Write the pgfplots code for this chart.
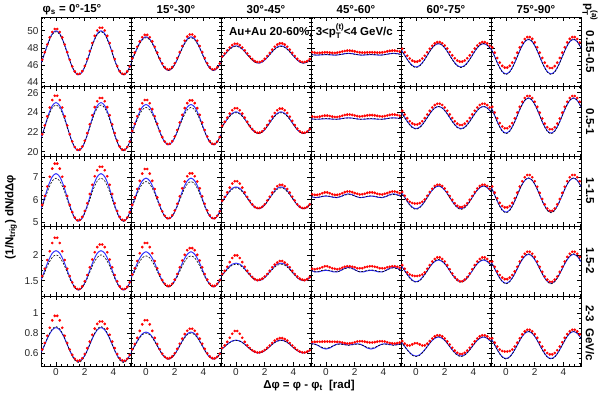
\documentclass[border=0pt]{standalone}
\usepackage{fontspec}
\setmainfont{Liberation Sans}
\usepackage{pgfplots}
\usepackage{pgfplotstable}
\pgfplotsset{compat=1.18}

% ---------- red points (36 bins) ----------
\pgfplotstableread{
x r1 r2 r3 r4 r5 r6
-0.9599 46.64 46.79 47.02 47.52 47.91 48.08
-0.7854 47.52 47.46 47.36 47.46 47.51 47.46
-0.6109 48.41 48.15 47.72 47.43 47.11 46.84
-0.4363 49.23 48.77 48.06 47.44 46.78 46.31
-0.2618 49.86 49.25 48.33 47.47 46.54 45.93
-0.0873 50.20 49.52 48.49 47.50 46.42 45.73
0.0873 50.20 49.52 48.49 47.50 46.42 45.73
0.2618 49.86 49.25 48.33 47.47 46.54 45.93
0.4363 49.23 48.77 48.06 47.44 46.78 46.31
0.6109 48.41 48.15 47.72 47.43 47.11 46.84
0.7854 47.52 47.46 47.36 47.46 47.51 47.46
0.9599 46.64 46.79 47.02 47.52 47.91 48.08
1.1345 45.86 46.20 46.71 47.59 48.27 48.64
1.3090 45.29 45.76 46.48 47.66 48.54 49.05
1.4835 44.99 45.53 46.37 47.70 48.68 49.27
1.6581 45.01 45.54 46.38 47.70 48.69 49.27
1.8326 45.32 45.78 46.50 47.67 48.55 49.06
2.0071 45.92 46.23 46.74 47.61 48.29 48.65
2.1817 46.73 46.84 47.07 47.54 47.94 48.09
2.3562 47.65 47.53 47.43 47.49 47.54 47.47
2.5307 48.58 48.24 47.81 47.47 47.15 46.85
2.7053 49.41 48.85 48.14 47.47 46.81 46.30
2.8798 50.03 49.32 48.40 47.49 46.55 45.90
3.0543 50.36 49.57 48.54 47.50 46.42 45.68
3.2289 50.36 49.57 48.54 47.50 46.42 45.68
3.4034 50.03 49.32 48.40 47.49 46.55 45.90
3.5779 49.41 48.85 48.14 47.47 46.81 46.30
3.7525 48.58 48.24 47.81 47.47 47.15 46.85
3.9270 47.65 47.53 47.43 47.49 47.54 47.47
4.1015 46.73 46.84 47.07 47.54 47.94 48.09
4.2761 45.92 46.23 46.74 47.61 48.29 48.65
4.4506 45.32 45.78 46.50 47.67 48.55 49.06
4.6251 45.01 45.54 46.38 47.70 48.69 49.27
4.7997 44.99 45.53 46.37 47.70 48.68 49.27
4.9742 45.29 45.76 46.48 47.66 48.54 49.05
5.1487 45.86 46.20 46.71 47.59 48.27 48.64
}\redA

\pgfplotstableread{
x r1 r2 r3 r4 r5 r6
-0.9599 21.78 22.11 22.63 23.58 24.15 24.56
-0.7854 22.66 22.84 23.03 23.53 23.78 23.98
-0.6109 23.59 23.60 23.46 23.53 23.41 23.40
-0.4363 24.50 24.33 23.87 23.57 23.10 22.91
-0.2618 25.25 24.92 24.22 23.63 22.88 22.56
-0.0873 25.69 25.26 24.42 23.67 22.77 22.38
0.0873 25.69 25.26 24.42 23.67 22.77 22.38
0.2618 25.25 24.92 24.22 23.63 22.88 22.56
0.4363 24.50 24.33 23.87 23.57 23.10 22.91
0.6109 23.59 23.60 23.46 23.53 23.41 23.40
0.7854 22.66 22.84 23.03 23.53 23.78 23.98
0.9599 21.78 22.11 22.63 23.58 24.15 24.56
1.1345 21.03 21.48 22.29 23.65 24.49 25.08
1.3090 20.48 21.03 22.05 23.73 24.74 25.46
1.4835 20.19 20.78 21.92 23.77 24.87 25.66
1.6581 20.21 20.80 21.94 23.78 24.87 25.66
1.8326 20.52 21.07 22.08 23.74 24.75 25.46
2.0071 21.11 21.55 22.34 23.68 24.50 25.08
2.1817 21.89 22.21 22.70 23.62 24.16 24.56
2.3562 22.79 22.97 23.13 23.58 23.79 23.97
2.5307 23.71 23.74 23.56 23.60 23.42 23.38
2.7053 24.53 24.43 23.94 23.64 23.09 22.86
2.8798 25.13 24.94 24.22 23.69 22.85 22.48
3.0543 25.46 25.22 24.38 23.72 22.72 22.28
3.2289 25.46 25.22 24.38 23.72 22.72 22.28
3.4034 25.13 24.94 24.22 23.69 22.85 22.48
3.5779 24.53 24.43 23.94 23.64 23.09 22.86
3.7525 23.71 23.74 23.56 23.60 23.42 23.38
3.9270 22.79 22.97 23.13 23.58 23.79 23.97
4.1015 21.89 22.21 22.70 23.62 24.16 24.56
4.2761 21.11 21.55 22.34 23.68 24.50 25.08
4.4506 20.52 21.07 22.08 23.74 24.75 25.46
4.6251 20.21 20.80 21.94 23.78 24.87 25.66
4.7997 20.19 20.78 21.92 23.77 24.87 25.66
4.9742 20.48 21.03 22.05 23.73 24.74 25.46
5.1487 21.03 21.48 22.29 23.65 24.49 25.08
}\redB

\pgfplotstableread{
x r1 r2 r3 r4 r5 r6
-0.9599 5.77 5.77 5.95 6.24 6.34 6.58
-0.7854 6.16 6.10 6.12 6.21 6.17 6.31
-0.6109 6.58 6.47 6.32 6.21 6.01 6.06
-0.4363 7.01 6.83 6.53 6.24 5.91 5.86
-0.2618 7.37 7.15 6.71 6.28 5.85 5.72
-0.0873 7.59 7.35 6.81 6.32 5.83 5.66
0.0873 7.59 7.35 6.81 6.32 5.83 5.66
0.2618 7.37 7.15 6.71 6.28 5.85 5.72
0.4363 7.01 6.83 6.53 6.24 5.91 5.86
0.6109 6.58 6.47 6.32 6.21 6.01 6.06
0.7854 6.16 6.10 6.12 6.21 6.17 6.31
0.9599 5.77 5.77 5.95 6.24 6.34 6.58
1.1345 5.45 5.49 5.79 6.28 6.48 6.81
1.3090 5.21 5.29 5.68 6.33 6.60 6.99
1.4835 5.09 5.18 5.63 6.36 6.66 7.09
1.6581 5.11 5.19 5.63 6.36 6.66 7.09
1.8326 5.24 5.31 5.69 6.33 6.60 6.99
2.0071 5.50 5.52 5.80 6.29 6.49 6.81
2.1817 5.84 5.82 5.96 6.26 6.34 6.57
2.3562 6.25 6.15 6.13 6.23 6.16 6.30
2.5307 6.66 6.50 6.31 6.24 5.99 6.03
2.7053 7.03 6.80 6.47 6.26 5.84 5.79
2.8798 7.30 7.03 6.59 6.30 5.73 5.61
3.0543 7.45 7.16 6.65 6.32 5.67 5.51
3.2289 7.45 7.16 6.65 6.32 5.67 5.51
3.4034 7.30 7.03 6.59 6.30 5.73 5.61
3.5779 7.03 6.80 6.47 6.26 5.84 5.79
3.7525 6.66 6.50 6.31 6.24 5.99 6.03
3.9270 6.25 6.15 6.13 6.23 6.16 6.30
4.1015 5.84 5.82 5.96 6.26 6.34 6.57
4.2761 5.50 5.52 5.80 6.29 6.49 6.81
4.4506 5.24 5.31 5.69 6.33 6.60 6.99
4.6251 5.11 5.19 5.63 6.36 6.66 7.09
4.7997 5.09 5.18 5.63 6.36 6.66 7.09
4.9742 5.21 5.29 5.68 6.33 6.60 6.99
5.1487 5.45 5.49 5.79 6.28 6.48 6.81
}\redC

\pgfplotstableread{
x r1 r2 r3 r4 r5 r6
-0.9599 1.59 1.62 1.63 1.73 1.80 1.87
-0.7854 1.73 1.74 1.69 1.72 1.73 1.77
-0.6109 1.90 1.88 1.77 1.73 1.66 1.68
-0.4363 2.07 2.03 1.86 1.74 1.62 1.61
-0.2618 2.23 2.15 1.94 1.76 1.60 1.56
-0.0873 2.33 2.23 1.99 1.78 1.59 1.53
0.0873 2.33 2.23 1.99 1.78 1.59 1.53
0.2618 2.23 2.15 1.94 1.76 1.60 1.56
0.4363 2.07 2.03 1.86 1.74 1.62 1.61
0.6109 1.90 1.88 1.77 1.73 1.66 1.68
0.7854 1.73 1.74 1.69 1.72 1.73 1.77
0.9599 1.59 1.62 1.63 1.73 1.80 1.87
1.1345 1.47 1.51 1.57 1.75 1.87 1.96
1.3090 1.38 1.44 1.53 1.77 1.92 2.02
1.4835 1.34 1.40 1.51 1.78 1.95 2.06
1.6581 1.34 1.40 1.52 1.78 1.95 2.06
1.8326 1.39 1.44 1.54 1.77 1.92 2.02
2.0071 1.49 1.52 1.58 1.76 1.87 1.96
2.1817 1.61 1.63 1.63 1.74 1.80 1.87
2.3562 1.76 1.76 1.69 1.74 1.72 1.77
2.5307 1.91 1.89 1.76 1.74 1.64 1.67
2.7053 2.05 2.00 1.81 1.76 1.57 1.58
2.8798 2.15 2.09 1.85 1.77 1.52 1.52
3.0543 2.20 2.13 1.88 1.78 1.49 1.48
3.2289 2.20 2.13 1.88 1.78 1.49 1.48
3.4034 2.15 2.09 1.85 1.77 1.52 1.52
3.5779 2.05 2.00 1.81 1.76 1.57 1.58
3.7525 1.91 1.89 1.76 1.74 1.64 1.67
3.9270 1.76 1.76 1.69 1.74 1.72 1.77
4.1015 1.61 1.63 1.63 1.74 1.80 1.87
4.2761 1.49 1.52 1.58 1.76 1.87 1.96
4.4506 1.39 1.44 1.54 1.77 1.92 2.02
4.6251 1.34 1.40 1.52 1.78 1.95 2.06
4.7997 1.34 1.40 1.51 1.78 1.95 2.06
4.9742 1.38 1.44 1.53 1.77 1.92 2.02
5.1487 1.47 1.51 1.57 1.75 1.87 1.96
}\redD

\pgfplotstableread{
x r1 r2 r3 r4 r5 r6
-0.9599 0.636 0.638 0.651 0.711 0.720 0.748
-0.7854 0.700 0.690 0.677 0.712 0.694 0.704
-0.6109 0.774 0.752 0.712 0.713 0.677 0.665
-0.4363 0.854 0.822 0.753 0.713 0.675 0.636
-0.2618 0.928 0.888 0.794 0.714 0.687 0.621
-0.0873 0.973 0.929 0.821 0.715 0.698 0.616
0.0873 0.973 0.929 0.821 0.715 0.698 0.616
0.2618 0.928 0.888 0.794 0.714 0.687 0.621
0.4363 0.854 0.822 0.753 0.713 0.675 0.636
0.6109 0.774 0.752 0.712 0.713 0.677 0.665
0.7854 0.700 0.690 0.677 0.712 0.694 0.704
0.9599 0.636 0.638 0.651 0.711 0.720 0.748
1.1345 0.581 0.593 0.628 0.705 0.746 0.787
1.3090 0.543 0.563 0.614 0.699 0.767 0.817
1.4835 0.523 0.547 0.606 0.696 0.779 0.833
1.6581 0.526 0.549 0.607 0.697 0.779 0.834
1.8326 0.548 0.566 0.615 0.701 0.767 0.819
2.0071 0.591 0.598 0.631 0.708 0.746 0.790
2.1817 0.649 0.642 0.652 0.716 0.717 0.752
2.3562 0.715 0.693 0.676 0.718 0.685 0.708
2.5307 0.784 0.744 0.701 0.718 0.653 0.666
2.7053 0.845 0.790 0.724 0.714 0.624 0.628
2.8798 0.892 0.824 0.740 0.709 0.603 0.601
3.0543 0.916 0.843 0.749 0.706 0.591 0.587
3.2289 0.916 0.843 0.749 0.706 0.591 0.587
3.4034 0.892 0.824 0.740 0.709 0.603 0.601
3.5779 0.845 0.790 0.724 0.714 0.624 0.628
3.7525 0.784 0.744 0.701 0.718 0.653 0.666
3.9270 0.715 0.693 0.676 0.718 0.685 0.708
4.1015 0.649 0.642 0.652 0.716 0.717 0.752
4.2761 0.591 0.598 0.631 0.708 0.746 0.790
4.4506 0.548 0.566 0.615 0.701 0.767 0.819
4.6251 0.526 0.549 0.607 0.697 0.779 0.834
4.7997 0.523 0.547 0.606 0.696 0.779 0.833
4.9742 0.543 0.563 0.614 0.699 0.767 0.817
5.1487 0.581 0.593 0.628 0.705 0.746 0.787
}\redE

% ---------- blue (b) and black dashed (k) curves ----------
\pgfplotstableread{
x b1 k1 b2 k2 b3 k3 b4 k4 b5 k5 b6 k6
-1.0472 46.18 46.15 46.38 46.35 46.75 46.74 47.26 47.25 47.83 47.83 48.00 48.01
-0.7854 47.45 47.40 47.35 47.30 47.25 47.22 47.19 47.19 47.15 47.13 47.00 46.98
-0.5236 48.73 48.65 48.33 48.25 47.75 47.71 47.18 47.20 46.48 46.43 46.00 45.96
-0.2618 49.66 49.57 49.04 48.95 48.12 48.06 47.21 47.24 45.98 45.92 45.27 45.21
0.0000 50.00 49.90 49.30 49.20 48.25 48.19 47.23 47.26 45.80 45.73 45.00 44.93
0.2618 49.66 49.57 49.04 48.95 48.12 48.06 47.21 47.24 45.98 45.92 45.27 45.21
0.5236 48.73 48.65 48.33 48.25 47.75 47.71 47.18 47.20 46.48 46.43 46.00 45.96
0.7854 47.45 47.40 47.35 47.30 47.25 47.22 47.19 47.19 47.15 47.13 47.00 46.98
1.0472 46.18 46.15 46.38 46.35 46.75 46.74 47.26 47.25 47.83 47.83 48.00 48.01
1.3090 45.24 45.24 45.66 45.66 46.38 46.38 47.35 47.32 48.32 48.34 48.73 48.76
1.5708 44.90 44.90 45.40 45.40 46.25 46.25 47.39 47.36 48.50 48.53 49.00 49.03
1.8326 45.24 45.24 45.66 45.66 46.38 46.38 47.35 47.32 48.32 48.34 48.73 48.76
2.0944 46.18 46.15 46.38 46.35 46.75 46.74 47.26 47.25 47.83 47.83 48.00 48.01
2.3562 47.45 47.40 47.35 47.30 47.25 47.22 47.19 47.19 47.15 47.13 47.00 46.98
2.6180 48.73 48.65 48.33 48.25 47.75 47.71 47.18 47.20 46.48 46.43 46.00 45.96
2.8798 49.66 49.57 49.04 48.95 48.12 48.06 47.21 47.24 45.98 45.92 45.27 45.21
3.1416 50.00 49.90 49.30 49.20 48.25 48.19 47.23 47.26 45.80 45.73 45.00 44.93
3.4034 49.66 49.57 49.04 48.95 48.12 48.06 47.21 47.24 45.98 45.92 45.27 45.21
3.6652 48.73 48.65 48.33 48.25 47.75 47.71 47.18 47.20 46.48 46.43 46.00 45.96
3.9270 47.45 47.40 47.35 47.30 47.25 47.22 47.19 47.19 47.15 47.13 47.00 46.98
4.1888 46.18 46.15 46.38 46.35 46.75 46.74 47.26 47.25 47.83 47.83 48.00 48.01
4.4506 45.24 45.24 45.66 45.66 46.38 46.38 47.35 47.32 48.32 48.34 48.73 48.76
4.7124 44.90 44.90 45.40 45.40 46.25 46.25 47.39 47.36 48.50 48.53 49.00 49.03
4.9742 45.24 45.24 45.66 45.66 46.38 46.38 47.35 47.32 48.32 48.34 48.73 48.76
5.2360 46.18 46.15 46.38 46.35 46.75 46.74 47.26 47.25 47.83 47.83 48.00 48.01
}\linA

\pgfplotstableread{
x b1 k1 b2 k2 b3 k3 b4 k4 b5 k5 b6 k6
-1.0472 21.33 21.30 21.73 21.70 22.40 22.40 23.35 23.34 24.03 24.03 24.56 24.56
-0.7854 22.55 22.45 22.75 22.63 22.95 22.92 23.30 23.30 23.47 23.45 23.67 23.65
-0.5236 23.78 23.60 23.78 23.57 23.50 23.45 23.30 23.31 22.91 22.88 22.78 22.74
-0.2618 24.67 24.44 24.53 24.25 23.90 23.83 23.33 23.35 22.50 22.45 22.13 22.07
0.0000 25.00 24.75 24.80 24.50 24.05 23.97 23.35 23.37 22.35 22.30 21.89 21.83
0.2618 24.67 24.44 24.53 24.25 23.90 23.83 23.33 23.35 22.50 22.45 22.13 22.07
0.5236 23.78 23.60 23.78 23.57 23.50 23.45 23.30 23.31 22.91 22.88 22.78 22.74
0.7854 22.55 22.45 22.75 22.63 22.95 22.92 23.30 23.30 23.47 23.45 23.67 23.65
1.0472 21.33 21.30 21.73 21.70 22.40 22.40 23.35 23.34 24.03 24.03 24.56 24.56
1.3090 20.43 20.46 20.98 21.01 22.00 22.01 23.42 23.40 24.44 24.45 25.21 25.23
1.5708 20.10 20.15 20.70 20.76 21.85 21.87 23.45 23.43 24.59 24.60 25.45 25.47
1.8326 20.43 20.46 20.98 21.01 22.00 22.01 23.42 23.40 24.44 24.45 25.21 25.23
2.0944 21.33 21.30 21.73 21.70 22.40 22.40 23.35 23.34 24.03 24.03 24.56 24.56
2.3562 22.55 22.45 22.75 22.63 22.95 22.92 23.30 23.30 23.47 23.45 23.67 23.65
2.6180 23.78 23.60 23.78 23.57 23.50 23.45 23.30 23.31 22.91 22.88 22.78 22.74
2.8798 24.67 24.44 24.53 24.25 23.90 23.83 23.33 23.35 22.50 22.45 22.13 22.07
3.1416 25.00 24.75 24.80 24.50 24.05 23.97 23.35 23.37 22.35 22.30 21.89 21.83
3.4034 24.67 24.44 24.53 24.25 23.90 23.83 23.33 23.35 22.50 22.45 22.13 22.07
3.6652 23.78 23.60 23.78 23.57 23.50 23.45 23.30 23.31 22.91 22.88 22.78 22.74
3.9270 22.55 22.45 22.75 22.63 22.95 22.92 23.30 23.30 23.47 23.45 23.67 23.65
4.1888 21.33 21.30 21.73 21.70 22.40 22.40 23.35 23.34 24.03 24.03 24.56 24.56
4.4506 20.43 20.46 20.98 21.01 22.00 22.01 23.42 23.40 24.44 24.45 25.21 25.23
4.7124 20.10 20.15 20.70 20.76 21.85 21.87 23.45 23.43 24.59 24.60 25.45 25.47
4.9742 20.43 20.46 20.98 21.01 22.00 22.01 23.42 23.40 24.44 24.45 25.21 25.23
5.2360 21.33 21.30 21.73 21.70 22.40 22.40 23.35 23.34 24.03 24.03 24.56 24.56
}\linB

\pgfplotstableread{
x b1 k1 b2 k2 b3 k3 b4 k4 b5 k5 b6 k6
-1.0472 5.58 5.53 5.60 5.57 5.84 5.83 6.14 6.14 6.35 6.35 6.58 6.58
-0.7854 6.10 6.00 6.05 5.98 6.08 6.06 6.09 6.10 6.10 6.09 6.20 6.19
-0.5236 6.63 6.48 6.50 6.39 6.32 6.29 6.10 6.11 5.85 5.83 5.83 5.81
-0.2618 7.01 6.82 6.83 6.69 6.50 6.46 6.14 6.15 5.67 5.64 5.55 5.52
0.0000 7.15 6.95 6.95 6.80 6.56 6.52 6.16 6.17 5.60 5.57 5.45 5.42
0.2618 7.01 6.82 6.83 6.69 6.50 6.46 6.14 6.15 5.67 5.64 5.55 5.52
0.5236 6.63 6.48 6.50 6.39 6.32 6.29 6.10 6.11 5.85 5.83 5.83 5.81
0.7854 6.10 6.00 6.05 5.98 6.08 6.06 6.09 6.10 6.10 6.09 6.20 6.19
1.0472 5.58 5.53 5.60 5.57 5.84 5.83 6.14 6.14 6.35 6.35 6.58 6.58
1.3090 5.19 5.18 5.27 5.27 5.66 5.66 6.22 6.20 6.53 6.54 6.85 6.86
1.5708 5.05 5.05 5.15 5.16 5.60 5.60 6.26 6.23 6.60 6.61 6.95 6.96
1.8326 5.19 5.18 5.27 5.27 5.66 5.66 6.22 6.20 6.53 6.54 6.85 6.86
2.0944 5.58 5.53 5.60 5.57 5.84 5.83 6.14 6.14 6.35 6.35 6.58 6.58
2.3562 6.10 6.00 6.05 5.98 6.08 6.06 6.09 6.10 6.10 6.09 6.20 6.19
2.6180 6.63 6.48 6.50 6.39 6.32 6.29 6.10 6.11 5.85 5.83 5.83 5.81
2.8798 7.01 6.82 6.83 6.69 6.50 6.46 6.14 6.15 5.67 5.64 5.55 5.52
3.1416 7.15 6.95 6.95 6.80 6.56 6.52 6.16 6.17 5.60 5.57 5.45 5.42
3.4034 7.01 6.82 6.83 6.69 6.50 6.46 6.14 6.15 5.67 5.64 5.55 5.52
3.6652 6.63 6.48 6.50 6.39 6.32 6.29 6.10 6.11 5.85 5.83 5.83 5.81
3.9270 6.10 6.00 6.05 5.98 6.08 6.06 6.09 6.10 6.10 6.09 6.20 6.19
4.1888 5.58 5.53 5.60 5.57 5.84 5.83 6.14 6.14 6.35 6.35 6.58 6.58
4.4506 5.19 5.18 5.27 5.27 5.66 5.66 6.22 6.20 6.53 6.54 6.85 6.86
4.7124 5.05 5.05 5.15 5.16 5.60 5.60 6.26 6.23 6.60 6.61 6.95 6.96
4.9742 5.19 5.18 5.27 5.27 5.66 5.66 6.22 6.20 6.53 6.54 6.85 6.86
5.2360 5.58 5.53 5.60 5.57 5.84 5.83 6.14 6.14 6.35 6.35 6.58 6.58
}\linC

\pgfplotstableread{
x b1 k1 b2 k2 b3 k3 b4 k4 b5 k5 b6 k6
-1.0472 1.51 1.49 1.55 1.53 1.59 1.58 1.70 1.70 1.80 1.80 1.87 1.88
-0.7854 1.70 1.66 1.72 1.68 1.67 1.66 1.67 1.67 1.69 1.69 1.73 1.73
-0.5236 1.89 1.83 1.89 1.83 1.76 1.74 1.67 1.68 1.59 1.58 1.59 1.59
-0.2618 2.03 1.95 2.01 1.94 1.82 1.80 1.69 1.70 1.51 1.50 1.49 1.48
0.0000 2.08 2.00 2.06 1.98 1.84 1.82 1.70 1.71 1.48 1.47 1.45 1.44
0.2618 2.03 1.95 2.01 1.94 1.82 1.80 1.69 1.70 1.51 1.50 1.49 1.48
0.5236 1.89 1.83 1.89 1.83 1.76 1.74 1.67 1.68 1.59 1.58 1.59 1.59
0.7854 1.70 1.66 1.72 1.68 1.67 1.66 1.67 1.67 1.69 1.69 1.73 1.73
1.0472 1.51 1.49 1.55 1.53 1.59 1.58 1.70 1.70 1.80 1.80 1.87 1.88
1.3090 1.37 1.37 1.43 1.42 1.52 1.52 1.74 1.73 1.87 1.88 1.97 1.98
1.5708 1.32 1.32 1.38 1.38 1.50 1.50 1.76 1.75 1.90 1.91 2.01 2.02
1.8326 1.37 1.37 1.43 1.42 1.52 1.52 1.74 1.73 1.87 1.88 1.97 1.98
2.0944 1.51 1.49 1.55 1.53 1.59 1.58 1.70 1.70 1.80 1.80 1.87 1.88
2.3562 1.70 1.66 1.72 1.68 1.67 1.66 1.67 1.67 1.69 1.69 1.73 1.73
2.6180 1.89 1.83 1.89 1.83 1.76 1.74 1.67 1.68 1.59 1.58 1.59 1.59
2.8798 2.03 1.95 2.01 1.94 1.82 1.80 1.69 1.70 1.51 1.50 1.49 1.48
3.1416 2.08 2.00 2.06 1.98 1.84 1.82 1.70 1.71 1.48 1.47 1.45 1.44
3.4034 2.03 1.95 2.01 1.94 1.82 1.80 1.69 1.70 1.51 1.50 1.49 1.48
3.6652 1.89 1.83 1.89 1.83 1.76 1.74 1.67 1.68 1.59 1.58 1.59 1.59
3.9270 1.70 1.66 1.72 1.68 1.67 1.66 1.67 1.67 1.69 1.69 1.73 1.73
4.1888 1.51 1.49 1.55 1.53 1.59 1.58 1.70 1.70 1.80 1.80 1.87 1.88
4.4506 1.37 1.37 1.43 1.42 1.52 1.52 1.74 1.73 1.87 1.88 1.97 1.98
4.7124 1.32 1.32 1.38 1.38 1.50 1.50 1.76 1.75 1.90 1.91 2.01 2.02
4.9742 1.37 1.37 1.43 1.42 1.52 1.52 1.74 1.73 1.87 1.88 1.97 1.98
5.2360 1.51 1.49 1.55 1.53 1.59 1.58 1.70 1.70 1.80 1.80 1.87 1.88
}\linD

\pgfplotstableread{
x b1 k1 b2 k2 b3 k3 b4 k4 b5 k5 b6 k6
-1.0472 0.600 0.595 0.608 0.605 0.633 0.634 0.693 0.689 0.713 0.715 0.748 0.750
-0.7854 0.685 0.685 0.675 0.670 0.665 0.665 0.690 0.687 0.665 0.665 0.680 0.680
-0.5236 0.770 0.775 0.743 0.735 0.698 0.696 0.673 0.674 0.618 0.615 0.613 0.610
-0.2618 0.832 0.841 0.792 0.783 0.721 0.719 0.650 0.656 0.583 0.578 0.563 0.559
0.0000 0.855 0.865 0.810 0.800 0.730 0.727 0.640 0.648 0.570 0.565 0.545 0.540
0.2618 0.832 0.841 0.792 0.783 0.721 0.719 0.650 0.656 0.583 0.578 0.563 0.559
0.5236 0.770 0.775 0.743 0.735 0.698 0.696 0.673 0.674 0.618 0.615 0.613 0.610
0.7854 0.685 0.685 0.675 0.670 0.665 0.665 0.690 0.687 0.665 0.665 0.680 0.680
1.0472 0.600 0.595 0.608 0.605 0.633 0.634 0.693 0.689 0.713 0.715 0.748 0.750
1.3090 0.538 0.529 0.558 0.557 0.609 0.611 0.685 0.682 0.747 0.752 0.797 0.801
1.5708 0.515 0.505 0.540 0.540 0.600 0.603 0.680 0.678 0.760 0.765 0.815 0.820
1.8326 0.538 0.529 0.558 0.557 0.609 0.611 0.685 0.682 0.747 0.752 0.797 0.801
2.0944 0.600 0.595 0.608 0.605 0.633 0.634 0.693 0.689 0.713 0.715 0.748 0.750
2.3562 0.685 0.685 0.675 0.670 0.665 0.665 0.690 0.687 0.665 0.665 0.680 0.680
2.6180 0.770 0.775 0.743 0.735 0.698 0.696 0.673 0.674 0.618 0.615 0.613 0.610
2.8798 0.832 0.841 0.792 0.783 0.721 0.719 0.650 0.656 0.583 0.578 0.563 0.559
3.1416 0.855 0.865 0.810 0.800 0.730 0.727 0.640 0.648 0.570 0.565 0.545 0.540
3.4034 0.832 0.841 0.792 0.783 0.721 0.719 0.650 0.656 0.583 0.578 0.563 0.559
3.6652 0.770 0.775 0.743 0.735 0.698 0.696 0.673 0.674 0.618 0.615 0.613 0.610
3.9270 0.685 0.685 0.675 0.670 0.665 0.665 0.690 0.687 0.665 0.665 0.680 0.680
4.1888 0.600 0.595 0.608 0.605 0.633 0.634 0.693 0.689 0.713 0.715 0.748 0.750
4.4506 0.538 0.529 0.558 0.557 0.609 0.611 0.685 0.682 0.747 0.752 0.797 0.801
4.7124 0.515 0.505 0.540 0.540 0.600 0.603 0.680 0.678 0.760 0.765 0.815 0.820
4.9742 0.538 0.529 0.558 0.557 0.609 0.611 0.685 0.682 0.747 0.752 0.797 0.801
5.2360 0.600 0.595 0.608 0.605 0.633 0.634 0.693 0.689 0.713 0.715 0.748 0.750
}\linE

\definecolor{rootblue}{RGB}{45,45,255}
\pgfplotsset{
  pan/.style={scale only axis, width=90pt, height=69.8pt, anchor=south west,
    xmin=-1.0472, xmax=5.236, xtick={0,2,4},
    minor xtick={-0.8,-0.4,0.4,0.8,1.2,1.6,2.4,2.8,3.2,3.6,4.4,4.8,5.2},
    tick align=inside, major tick length=4pt, minor tick length=2.2pt,
    every tick/.style={black, line width=0.6pt},
    axis line style={black, line width=0.8pt},
    tick label style={font=\fontsize{10}{10}\selectfont, text=black!85},
    /pgf/number format/assume math mode=true,
    xticklabel style={yshift=1pt},
    yticklabel style={xshift=1pt},
  },
  rA/.style={ymin=43.5, ymax=51.6, ytick={44,46,48,50}, minor ytick={43.5,44,...,51.5}},
  rB/.style={ymin=19.5, ymax=26.6, ytick={20,22,24,26}, minor ytick={19.5,20,...,26.5}},
  rC/.style={ymin=4.82, ymax=7.9, ytick={5,6,7}, minor ytick={4.8,5,...,7.8}},
  rD/.style={ymin=1.2, ymax=2.55, ytick={1.5,2}, minor ytick={1.2,1.3,...,2.5}},
  rE/.style={ymin=0.47, ymax=1.17, ytick={0.6,0.8,1}, minor ytick={0.5,0.55,...,1.15}},
  nox/.style={xticklabels={}},
  noy/.style={yticklabels={}},
}
\newcommand\pnl[6]{%
\begin{axis}[pan,#3,at={(-49pt+#1*90pt, 312.2pt-#2*69.8pt)},#6]
\addplot[only marks, mark=*, mark size=1.15pt, color=red, mark options={fill=red, draw=red}] table[x=x,y=r#1]{#5};
\addplot[smooth, color=rootblue, line width=0.95pt] table[x=x,y=b#1]{#4};
\addplot[smooth, black, line width=0.6pt, dash pattern=on 2pt off 1.5pt] table[x=x,y=k#1]{#4};
\end{axis}}
% stacked subscript / superscript
\newcommand\subsup[2]{{\fontsize{8}{8}\selectfont\rlap{\raisebox{-0.7ex}{#1}}\raisebox{1.5ex}{#2}}}

\begin{document}
\begin{tikzpicture}
\path[use as bounding box] (0,0) rectangle (600pt,399pt);
% row 1
\pnl{1}{0}{rA}{\linA}{\redA}{nox}
\pnl{2}{0}{rA}{\linA}{\redA}{nox,noy}
\pnl{3}{0}{rA}{\linA}{\redA}{nox,noy}
\pnl{4}{0}{rA}{\linA}{\redA}{nox,noy}
\pnl{5}{0}{rA}{\linA}{\redA}{nox,noy}
\pnl{6}{0}{rA}{\linA}{\redA}{nox,noy}
% row 2
\pnl{1}{1}{rB}{\linB}{\redB}{nox}
\pnl{2}{1}{rB}{\linB}{\redB}{nox,noy}
\pnl{3}{1}{rB}{\linB}{\redB}{nox,noy}
\pnl{4}{1}{rB}{\linB}{\redB}{nox,noy}
\pnl{5}{1}{rB}{\linB}{\redB}{nox,noy}
\pnl{6}{1}{rB}{\linB}{\redB}{nox,noy}
% row 3
\pnl{1}{2}{rC}{\linC}{\redC}{nox}
\pnl{2}{2}{rC}{\linC}{\redC}{nox,noy}
\pnl{3}{2}{rC}{\linC}{\redC}{nox,noy}
\pnl{4}{2}{rC}{\linC}{\redC}{nox,noy}
\pnl{5}{2}{rC}{\linC}{\redC}{nox,noy}
\pnl{6}{2}{rC}{\linC}{\redC}{nox,noy}
% row 4
\pnl{1}{3}{rD}{\linD}{\redD}{nox}
\pnl{2}{3}{rD}{\linD}{\redD}{nox,noy}
\pnl{3}{3}{rD}{\linD}{\redD}{nox,noy}
\pnl{4}{3}{rD}{\linD}{\redD}{nox,noy}
\pnl{5}{3}{rD}{\linD}{\redD}{nox,noy}
\pnl{6}{3}{rD}{\linD}{\redD}{nox,noy}
% row 5
\pnl{1}{4}{rE}{\linE}{\redE}{}
\pnl{2}{4}{rE}{\linE}{\redE}{noy}
\pnl{3}{4}{rE}{\linE}{\redE}{noy}
\pnl{4}{4}{rE}{\linE}{\redE}{noy}
\pnl{5}{4}{rE}{\linE}{\redE}{noy}
\pnl{6}{4}{rE}{\linE}{\redE}{noy}
% texts
\begin{scope}[every node/.style={font=\bfseries\fontsize{11.5}{12}\selectfont, inner sep=0pt}]
\node at (72pt,389pt) {φ\textsubscript{s} = 0°-15°};
\node at (176pt,389pt) {15°-30°};
\node at (266pt,389pt) {30°-45°};
\node at (356pt,389pt) {45°-60°};
\node at (446pt,389pt) {60°-75°};
\node at (536pt,389pt) {75°-90°};
\node at (311pt,368pt) {Au+Au 20-60\%, 3<p\subsup{T}{(t)}<4 GeV/c};
\node[rotate=-90] at (590pt,387pt) {p\subsup{T}{(a)}};
\node[rotate=-90] at (590pt,347pt) {0.15-0.5};
\node[rotate=-90] at (590pt,277pt) {0.5-1};
\node[rotate=-90] at (590pt,208pt) {1-1.5};
\node[rotate=-90] at (590pt,138pt) {1.5-2};
\node[rotate=-90] at (590pt,66pt) {2-3\ \ GeV/c};
\node[rotate=90] at (11pt,182pt) {(1/N\textsubscript{trig}) dN/dΔφ};
\node at (309pt,13pt) {Δφ = φ - φ\textsubscript{t}\ \ [rad]};
\end{scope}
\end{tikzpicture}
\end{document}
